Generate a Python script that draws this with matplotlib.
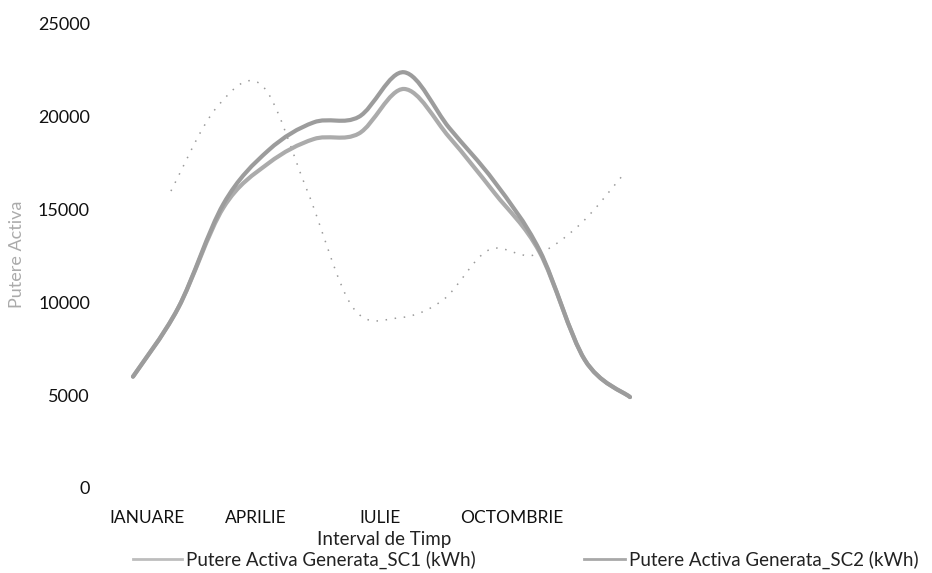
import numpy as np
import matplotlib
matplotlib.use("Agg")
import matplotlib.pyplot as plt
from matplotlib.path import Path
from matplotlib.patches import PathPatch
from matplotlib.lines import Line2D

plt.rcParams['font.family'] = ['Lato', 'DejaVu Sans']

# data
months = ['IANUARE', 'FEBRUARIE', 'MARTIE', 'APRILIE', 'MAI', 'IUNIE',
          'IULIE', 'AUGUST', 'SEPTEMBRIE', 'OCTOMBRIE', 'NOIEMBRIE', 'DECEMBRIE']
sc1 = [6000, 9700, 15100, 17500, 18800, 19100, 21500, 18900, 15900, 12700, 6900, 4900]
sc2 = [6000, 9700, 15300, 18200, 19700, 20000, 22400, 19400, 16500, 12800, 6900, 4900]
# faint bleed-through curve visible on the scan
ghost_x = [0.84, 1.84, 2.85, 3.85, 4.86, 5.86, 6.86, 7.87, 8.87, 9.88, 10.88]
ghost_y = [16000, 20470, 21700, 16060, 9750, 9160, 10130, 12820, 12550, 14170, 16970]
tick_months = [0, 3, 6, 9]
tick_pos = [0.31, 2.72, 5.47, 8.39]   # where the labels sit on the scan
yticks = [0, 5000, 10000, 15000, 20000, 25000]

labels = ['Putere Activa Generata_SC1 (kWh)', 'Putere Activa Generata_SC2 (kWh)']


def smooth_path(x, y):
    # Catmull-Rom through the points, drawn as cubic Bezier segments
    p = np.column_stack([x, y]).astype(float)
    pts = np.vstack([p[0], p, p[-1]])
    verts = [p[0]]
    codes = [Path.MOVETO]
    for i in range(1, len(pts) - 2):
        p0, p1, p2, p3 = pts[i - 1], pts[i], pts[i + 1], pts[i + 2]
        verts += [p1 + (p2 - p0) / 6, p2 - (p3 - p1) / 6, p2]
        codes += [Path.CURVE4] * 3
    return Path(verts, codes)


W, H = 932, 573
fig = plt.figure(figsize=(W / 100, H / 100), dpi=100)
ax = fig.add_axes([133 / W, (H - 488) / H, 497 / W, 464 / H])
ax.set_xlim(0, 11)
ax.set_ylim(0, 25000)

x = np.arange(len(months))
ax.add_patch(PathPatch(smooth_path(ghost_x, ghost_y), fill=False, edgecolor='#9a9a9a',
                       lw=1.1, ls=(0, (1, 5)), clip_on=False))
ax.add_patch(PathPatch(smooth_path(x, sc1), fill=False, edgecolor='#ababab',
                       lw=3, clip_on=False, capstyle='round'))
ax.add_patch(PathPatch(smooth_path(x, sc2), fill=False, edgecolor='#9c9c9c',
                       lw=3, clip_on=False, capstyle='round'))

for s in ax.spines.values():
    s.set_visible(False)
ax.set_yticks(yticks)
ax.set_yticklabels([str(v) for v in yticks])
ax.set_xticks(tick_pos)
ax.set_xticklabels([months[i] for i in tick_months])
ax.tick_params(axis='y', length=0, pad=31, labelsize=13, labelcolor='#111111')
ax.tick_params(axis='x', length=0, pad=16, labelsize=12.5, labelcolor='#111111')

fig.text(17 / W, 1 - 254 / H, 'Putere Activa', rotation=90, ha='center', va='center',
         fontsize=13, color='#ababab')
fig.text(384 / W, 1 - 540 / H, 'Interval de Timp', ha='center', va='center',
         fontsize=13.5, color='#222222')

h1 = Line2D([], [], color='#bdbdbd', lw=2)
h2 = Line2D([], [], color='#a8a8a8', lw=2)
fig.legend([h1], [labels[0]], loc='center left', bbox_to_anchor=(133 / W, 1 - 560 / H),
           frameon=False, borderpad=0, borderaxespad=0, handlelength=2.6,
           handletextpad=0.2, fontsize=13.5, labelcolor='#222222')
fig.legend([h2], [labels[1]], loc='center left', bbox_to_anchor=(584 / W, 1 - 560 / H),
           frameon=False, borderpad=0, borderaxespad=0, handlelength=2.2,
           handletextpad=0.2, fontsize=13.5, labelcolor='#222222')

fig.savefig('out.png', dpi=100, facecolor='white')
